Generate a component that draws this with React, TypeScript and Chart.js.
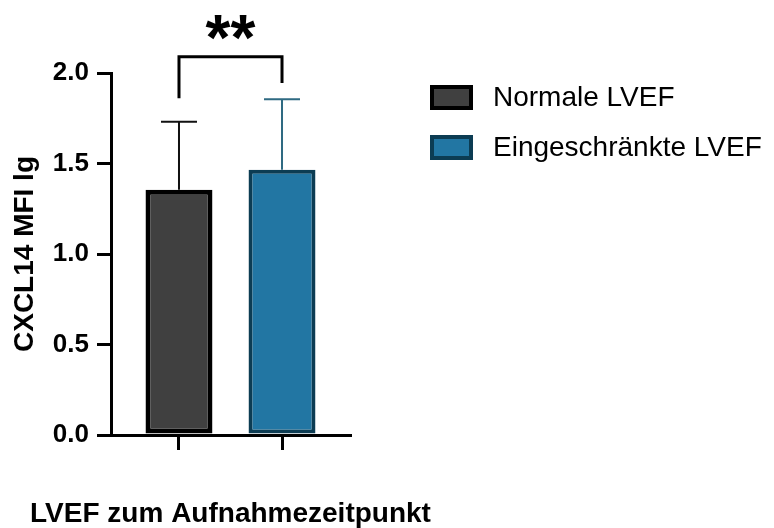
import React, { useEffect, useRef } from "react";
import { Chart, registerables } from "chart.js";

Chart.register(...registerables);

// ---- data ----
const groupLabels = ["Normale LVEF", "Eingeschränkte LVEF"];
const groupPositions = [1, 2];
const meanValues = [1.355, 1.465];
const sdValues = [0.375, 0.39];
const yTickStep = [0.5];
const yRange = [0, 2];
const bracketLevel = [2.09];
const bracketLegEnds = [1.86, 1.945];
const significanceLabel = ["**"];
const axisTitleY = "CXCL14 MFI lg";
const axisTitleX = "LVEF zum Aufnahmezeitpunkt";

// ---- styles ----
const fillColors = ["#404040", "#2276a3"];
const borderColors = ["#000000", "#0c3c53"];
const errorColors = ["#111111", "#2f6a82"];
const borderWidths = [5, 4];
const FONT = "'Liberation Sans', Arial, Helvetica, sans-serif";

const annotatePlugin = {
  id: "annotate",
  afterDatasetsDraw(chart: any) {
    const { ctx } = chart;
    const xs = chart.scales.x;
    const ys = chart.scales.y;
    ctx.save();
    // error bars (upper SD)
    meanValues.forEach((m, i) => {
      const px = xs.getPixelForValue(groupPositions[i]);
      const y0 = ys.getPixelForValue(m);
      const y1 = ys.getPixelForValue(m + sdValues[i]);
      ctx.strokeStyle = errorColors[i];
      ctx.lineWidth = 2;
      ctx.beginPath();
      ctx.moveTo(px, y0);
      ctx.lineTo(px, y1);
      ctx.moveTo(px - 18, y1);
      ctx.lineTo(px + 18, y1);
      ctx.stroke();
    });
    // significance bracket
    const xl = xs.getPixelForValue(groupPositions[0]);
    const xr = xs.getPixelForValue(groupPositions[1]);
    const yt = ys.getPixelForValue(bracketLevel[0]);
    ctx.strokeStyle = "#000";
    ctx.lineWidth = 3;
    ctx.lineJoin = "miter";
    ctx.beginPath();
    ctx.moveTo(xl, ys.getPixelForValue(bracketLegEnds[0]));
    ctx.lineTo(xl, yt);
    ctx.lineTo(xr, yt);
    ctx.lineTo(xr, ys.getPixelForValue(bracketLegEnds[1]));
    ctx.stroke();
    ctx.fillStyle = "#000";
    ctx.font = `bold 64px ${FONT}`;
    ctx.textAlign = "center";
    ctx.textBaseline = "alphabetic";
    ctx.fillText(significanceLabel[0], (xl + xr) / 2, yt + 3);
    ctx.restore();
  },
  afterDraw(chart: any) {
    const { ctx, chartArea } = chart;
    ctx.save();
    // x axis title (drawn here so it is not squeezed to the plot width)
    ctx.fillStyle = "#000";
    ctx.font = `bold 28px ${FONT}`;
    ctx.textAlign = "center";
    ctx.textBaseline = "middle";
    ctx.fillText(axisTitleX, (chartArea.left + chartArea.right) / 2, chartArea.bottom + 79);
    // legend
    const bx = chartArea.right + 80;
    groupLabels.forEach((label, i) => {
      const by = chartArea.top + 12 + i * 50;
      const w = 43;
      const h = 25;
      const b = 4;
      ctx.fillStyle = borderColors[i];
      ctx.fillRect(bx, by, w, h);
      ctx.fillStyle = fillColors[i];
      ctx.fillRect(bx + b, by + b, w - 2 * b, h - 2 * b);
      ctx.fillStyle = "#000";
      ctx.font = `28px ${FONT}`;
      ctx.textAlign = "left";
      ctx.textBaseline = "middle";
      ctx.fillText(label, bx + w + 20, by + h / 2 + 1);
    });
    ctx.restore();
  },
};

export default function App() {
  const ref = useRef<HTMLCanvasElement | null>(null);
  useEffect(() => {
    if (!ref.current) return;
    const chart = new Chart(ref.current, {
      type: "bar",
      data: {
        datasets: groupLabels.map((label, i) => ({
          label,
          data: [{ x: groupPositions[i], y: meanValues[i] }],
          backgroundColor: fillColors[i],
          borderColor: borderColors[i],
          borderWidth: borderWidths[i],
          borderSkipped: false,
          barPercentage: 0.65,
          categoryPercentage: 1,
          grouped: false,
        })),
      } as any,
      options: {
        animation: false,
        responsive: false,
        devicePixelRatio: 1,
        layout: { padding: { left: 8, top: 73, right: 424, bottom: 0 } },
        plugins: { legend: { display: false }, tooltip: { enabled: false } },
        scales: {
          x: {
            type: "linear",
            min: groupPositions[0] - 0.66,
            max: groupPositions[1] + 0.66,
            offset: false,
            ticks: { stepSize: 1, includeBounds: false, callback: () => "" },
            afterBuildTicks: (s: any) => {
              s.ticks = s.ticks.filter((t: any) => groupPositions.includes(t.value));
            },
            afterFit: (s: any) => {
              s.height = 93;
            },
            grid: { offset: false, drawOnChartArea: false, drawTicks: true, tickLength: 15, color: "#000", lineWidth: 3 },
            border: { display: true, color: "#000", width: 3 },
            title: { display: false },
          },
          y: {
            type: "linear",
            min: yRange[0],
            max: yRange[1],
            ticks: {
              stepSize: yTickStep[0],
              color: "#000",
              padding: 8,
              font: { family: FONT, size: 26, weight: "bold" },
              callback: (v: any) => Number(v).toFixed(1),
            },
            afterFit: (s: any) => {
              s.width = 103;
            },
            grid: { drawOnChartArea: false, drawTicks: true, tickLength: 14, color: "#000", lineWidth: 3 },
            border: { display: true, color: "#000", width: 3 },
            title: {
              display: true,
              text: axisTitleY,
              color: "#000",
              font: { family: FONT, size: 28, weight: "bold", lineHeight: 1.2 },
              padding: 0,
            },
          },
        },
      } as any,
      plugins: [annotatePlugin],
    });
    return () => chart.destroy();
  }, []);
  return (
    <div style={{ position: "fixed", left: 0, top: 0, width: 774, height: 528, background: "#fff" }}>
      <canvas ref={ref} width={774} height={528} />
    </div>
  );
}
